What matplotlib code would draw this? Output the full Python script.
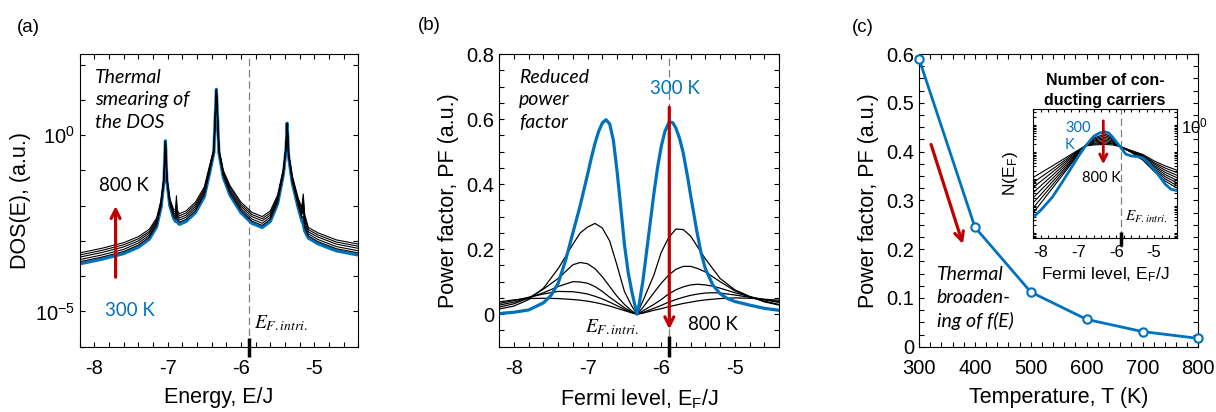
import numpy as np
import matplotlib
matplotlib.use("Agg")
import matplotlib.pyplot as plt
from matplotlib.ticker import MultipleLocator, FixedLocator, FuncFormatter, LogLocator, NullFormatter

# ---------------- data ----------------
# (a) DOS, log10 values, 300 K (blue) and 400..800 K (black)
E_a = [-8.2, -7.9, -7.6, -7.4, -7.25, -7.15, -7.09, -7.05, -7.03, -7.01, -6.97, -6.92, -6.89, -6.88,
       -6.87, -6.84, -6.75, -6.62, -6.5, -6.42, -6.37, -6.335, -6.3, -6.24, -6.15, -6.0, -5.85, -5.71,
       -5.6, -5.5, -5.42, -5.385, -5.37, -5.35, -5.3, -5.22, -5.17, -5.15, -5.13, -5.08, -4.95, -4.7, -4.4]
dos_300 = [-3.65, -3.52, -3.36, -3.18, -2.95, -2.6, -2.05, -1.3, -0.16, -1.3, -2.0, -2.35, -2.45, -2.43,
           -2.46, -2.53, -2.45, -2.2, -1.75, -1.0, -0.5, 1.30, -0.5, -1.2, -1.7, -2.2, -2.5, -2.62,
           -2.45, -1.95, -1.1, -0.4, 0.34, -0.6, -1.35, -2.05, -2.42, -2.52, -2.72, -2.92, -3.08, -3.28, -3.40]
dos_400 = [-3.59, -3.46, -3.30, -3.12, -2.89, -2.55, -2.01, -1.28, -0.17, -1.28, -1.96, -2.30, -2.38, -2.25,
           -2.39, -2.47, -2.39, -2.14, -1.69, -0.96, -0.48, 1.29, -0.48, -1.16, -1.65, -2.14, -2.44, -2.56,
           -2.39, -1.90, -1.07, -0.38, 0.34, -0.58, -1.31, -2.00, -2.35, -2.3, -2.63, -2.86, -3.02, -3.22, -3.34]
dos_500 = [-3.53, -3.40, -3.24, -3.06, -2.84, -2.50, -1.97, -1.26, -0.18, -1.26, -1.92, -2.25, -2.32, -2.1,
           -2.32, -2.41, -2.33, -2.08, -1.64, -0.92, -0.46, 1.29, -0.46, -1.12, -1.59, -2.08, -2.38, -2.50,
           -2.33, -1.85, -1.04, -0.37, 0.33, -0.57, -1.27, -1.94, -2.27, -2.1, -2.53, -2.80, -2.96, -3.16, -3.28]
dos_600 = [-3.46, -3.33, -3.17, -3.00, -2.78, -2.45, -1.93, -1.24, -0.19, -1.24, -1.88, -2.20, -2.25, -1.95,
           -2.26, -2.35, -2.27, -2.02, -1.58, -0.88, -0.44, 1.28, -0.44, -1.08, -1.54, -2.02, -2.31, -2.43,
           -2.27, -1.80, -1.01, -0.35, 0.33, -0.55, -1.23, -1.89, -2.20, -1.95, -2.44, -2.74, -2.89, -3.09, -3.21]
dos_700 = [-3.40, -3.27, -3.11, -2.94, -2.73, -2.40, -1.89, -1.22, -0.20, -1.22, -1.84, -2.15, -2.19, -1.85,
           -2.19, -2.29, -2.21, -1.96, -1.53, -0.84, -0.42, 1.28, -0.42, -1.04, -1.48, -1.96, -2.25, -2.37,
           -2.21, -1.75, -0.98, -0.34, 0.32, -0.54, -1.19, -1.83, -2.12, -1.8, -2.34, -2.68, -2.83, -3.03, -3.15]
dos_800 = [-3.34, -3.21, -3.05, -2.88, -2.67, -2.35, -1.85, -1.2, -0.21, -1.2, -1.8, -2.1, -2.12, -1.72,
           -2.12, -2.23, -2.15, -1.9, -1.47, -0.8, -0.4, 1.27, -0.4, -1.0, -1.43, -1.9, -2.19, -2.31,
           -2.15, -1.7, -0.95, -0.32, 0.32, -0.52, -1.15, -1.78, -2.05, -1.67, -2.25, -2.62, -2.77, -2.97, -3.09]

# (b) power factor vs Fermi level
E_b_blue = [-8.2, -8.0, -7.8, -7.6, -7.5, -7.4, -7.3, -7.2, -7.1, -7.0,
            -6.95, -6.9, -6.85, -6.8, -6.75, -6.7, -6.65, -6.6, -6.55, -6.5,
            -6.45, -6.4, -6.36, -6.33, -6.3, -6.25, -6.2, -6.15, -6.1, -6.05,
            -6.0, -5.95, -5.89, -5.84, -5.8, -5.75, -5.7, -5.64, -5.6, -5.52,
            -5.46, -5.4, -5.3, -5.2, -5.1, -5.0, -4.8, -4.7, -4.6, -4.4]
pf_300 = [0.002, 0.006, 0.013, 0.035, 0.057, 0.095, 0.165, 0.25, 0.335, 0.43,
          0.48, 0.525, 0.562, 0.588, 0.598, 0.585, 0.535, 0.44, 0.33, 0.215,
          0.13, 0.07, 0.03, 0.0, 0.03, 0.1, 0.19, 0.28, 0.37, 0.45,
          0.515, 0.562, 0.592, 0.588, 0.572, 0.54, 0.495, 0.42, 0.365, 0.26,
          0.19, 0.14, 0.09, 0.063, 0.048, 0.039, 0.028, 0.023, 0.018, 0.012]
E_b = [-8.2, -8.0, -7.8, -7.6, -7.4, -7.2, -7.1, -7.0, -6.9, -6.8, -6.7, -6.6, -6.5, -6.4, -6.33,
       -6.25, -6.1, -6.0, -5.9, -5.8, -5.7, -5.6, -5.5, -5.4, -5.3, -5.2, -5.0, -4.8, -4.6, -4.4]
pf_400 = [0.016, 0.025, 0.045, 0.08, 0.14, 0.215, 0.25, 0.268, 0.279, 0.265, 0.225, 0.15, 0.07, 0.025, 0.0,
          0.04, 0.12, 0.19, 0.235, 0.262, 0.26, 0.24, 0.205, 0.17, 0.14, 0.11, 0.075, 0.055, 0.038, 0.028]
pf_500 = [0.022, 0.032, 0.05, 0.077, 0.11, 0.152, 0.159, 0.155, 0.14, 0.115, 0.085, 0.055, 0.03, 0.01, 0.0,
          0.02, 0.066, 0.095, 0.12, 0.138, 0.147, 0.147, 0.14, 0.13, 0.115, 0.1, 0.072, 0.053, 0.04, 0.03]
pf_600 = [0.028, 0.037, 0.05, 0.066, 0.085, 0.1, 0.099, 0.095, 0.085, 0.07, 0.052, 0.036, 0.02, 0.006, 0.0,
          0.01, 0.03, 0.045, 0.062, 0.075, 0.084, 0.09, 0.092, 0.09, 0.086, 0.08, 0.066, 0.054, 0.044, 0.036]
pf_700 = [0.033, 0.042, 0.052, 0.062, 0.07, 0.069, 0.066, 0.062, 0.055, 0.047, 0.037, 0.026, 0.015, 0.005, 0.0,
          0.005, 0.018, 0.027, 0.037, 0.045, 0.052, 0.058, 0.062, 0.065, 0.066, 0.065, 0.059, 0.052, 0.045, 0.039]
pf_800 = [0.038, 0.044, 0.048, 0.049, 0.048, 0.045, 0.043, 0.04, 0.036, 0.031, 0.025, 0.018, 0.011, 0.004, 0.0,
          0.003, 0.012, 0.017, 0.023, 0.028, 0.033, 0.037, 0.041, 0.044, 0.046, 0.048, 0.05, 0.049, 0.046, 0.043]

# (c) peak power factor vs temperature
temps = [300, 400, 500, 600, 700, 800]
pf_peak = [0.59, 0.245, 0.112, 0.056, 0.031, 0.017]

# (c) inset: number of conducting carriers, log10 values
E_in_blue = [-8.2, -8.0, -7.7, -7.45, -7.2, -7.0, -6.83, -6.6, -6.45, -6.3, -6.2, -6.1, -5.9, -5.75,
             -5.6, -5.45, -5.3, -5.15, -5.0, -4.85, -4.7, -4.55, -4.4]
n_300 = [-3.42, -3.15, -2.68, -2.15, -1.6, -1.15, -0.8, -0.42, -0.3, -0.25, -0.3, -0.45, -0.8, -1.08,
         -1.15, -1.17, -1.22, -1.4, -1.65, -1.92, -2.2, -2.38, -2.43]
E_in = [-8.2, -7.7, -7.2, -6.83, -6.6, -6.3, -6.1, -5.9, -5.6, -5.3, -5.0, -4.7, -4.4]
n_t1 = [-3.25, -2.35, -1.45, -0.78, -0.49, -0.33, -0.47, -0.8, -1.02, -1.3, -1.72, -2.08, -2.33]
n_t2 = [-3.06, -2.23, -1.40, -0.78, -0.53, -0.39, -0.51, -0.8, -1.01, -1.27, -1.66, -2.0, -2.24]
n_t3 = [-2.88, -2.11, -1.35, -0.78, -0.57, -0.45, -0.55, -0.8, -1.0, -1.24, -1.61, -1.92, -2.14]
n_t4 = [-2.69, -1.99, -1.30, -0.78, -0.60, -0.51, -0.59, -0.8, -0.99, -1.21, -1.55, -1.84, -2.05]
n_t5 = [-2.50, -1.87, -1.24, -0.78, -0.64, -0.57, -0.63, -0.8, -0.98, -1.18, -1.5, -1.76, -1.95]
n_t6 = [-2.31, -1.75, -1.19, -0.78, -0.68, -0.62, -0.67, -0.8, -0.97, -1.15, -1.44, -1.68, -1.86]
n_t7 = [-2.13, -1.64, -1.14, -0.78, -0.71, -0.67, -0.70, -0.8, -0.96, -1.12, -1.39, -1.6, -1.76]
n_t8 = [-1.94, -1.52, -1.09, -0.78, -0.74, -0.72, -0.74, -0.8, -0.95, -1.09, -1.33, -1.52, -1.67]

E_F = -5.89

BLUE = '#0072BD'
RED = '#C00000'
NOTE = 'Lato'
TICK = 14.5
LAB = 15.5

plt.rcParams['font.family'] = 'Liberation Sans'
plt.rcParams['axes.unicode_minus'] = False
plt.rcParams['mathtext.fontset'] = 'stix'

fig = plt.figure(figsize=(12.16, 4.12), dpi=100)
ax_a = fig.add_axes([0.0655, 0.1585, 0.2291, 0.7104])
ax_b = fig.add_axes([0.4106, 0.1585, 0.2300, 0.7104])
ax_c = fig.add_axes([0.7558, 0.1585, 0.2297, 0.7104])
ax_in = fig.add_axes([0.8498, 0.4223, 0.1179, 0.3131])


def style(ax, size=TICK, pad=9):
    ax.tick_params(which='both', direction='in', top=True, right=True, length=3.5, width=0.8,
                   labelsize=size)
    ax.tick_params(axis='x', pad=pad)
    for s in ax.spines.values():
        s.set_linewidth(0.8)


def ef_marks(ax, lo, hi):
    ax.axvline(E_F, color='0.5', lw=0.9, ls=(0, (6, 3)), zorder=0)
    ax.plot([E_F, E_F], [lo, hi], color='black', lw=2.5, clip_on=False,
            transform=ax.get_xaxis_transform(), solid_capstyle='butt')


def decade_label(keep):
    def f(v, pos):
        if v <= 0:
            return ''
        e = int(round(np.log10(v)))
        return r'$\mathregular{10^{%d}}$' % e if e in keep else ''
    return f


# ---------------- (a) ----------------
ax = ax_a
ax.plot(E_a, 10.0 ** np.array(dos_300), color=BLUE, lw=2.3)
for d in [dos_400, dos_500, dos_600, dos_700, dos_800]:
    ax.plot(E_a, 10.0 ** np.array(d), color='black', lw=0.8)
ax.set_yscale('log')
ax.set_xlim(-8.2, -4.4)
ax.set_ylim(1e-6, 2e2)
ax.yaxis.set_major_locator(FixedLocator([10.0 ** k for k in range(-6, 3)]))
ax.yaxis.set_major_formatter(FuncFormatter(decade_label((0, -5))))
ax.yaxis.set_minor_locator(FixedLocator([]))
ax.xaxis.set_major_locator(MultipleLocator(1))
ax.xaxis.set_minor_locator(MultipleLocator(0.2))
style(ax)
ef_marks(ax, 0.03, -0.035)
ax.set_xlabel('Energy, E/J', fontsize=LAB, labelpad=6)
ax.set_ylabel('DOS(E), (a.u.)', fontsize=LAB, labelpad=3)
ax.text(0.054, 0.95, 'Thermal\nsmearing of\nthe DOS', transform=ax.transAxes, family=NOTE,
        style='italic', fontsize=14, va='top', ha='left', linespacing=1.4)
ax.text(0.158, 0.552, '800 K', transform=ax.transAxes, family=NOTE, fontsize=13.5,
        ha='center', va='center')
ax.text(0.182, 0.122, '300 K', transform=ax.transAxes, family=NOTE, fontsize=13.5,
        ha='center', va='center', color=BLUE)
ax.annotate('', xy=(0.129, 0.49), xytext=(0.129, 0.228), xycoords='axes fraction',
            arrowprops=dict(arrowstyle='->', color=RED, lw=2.3, mutation_scale=16))
ax.text(0.626, 0.081, r'$E_{F.intri.}$', transform=ax.transAxes, fontsize=14,
        ha='left', va='center')

# ---------------- (b) ----------------
ax = ax_b
for d in [pf_400, pf_500, pf_600, pf_700, pf_800]:
    ax.plot(E_b, d, color='black', lw=0.9)
ax.plot(E_b_blue, pf_300, color=BLUE, lw=2.3)
ax.set_xlim(-8.2, -4.4)
ax.set_ylim(-0.1, 0.8)
ax.yaxis.set_major_locator(FixedLocator([0, 0.2, 0.4, 0.6, 0.8]))
ax.yaxis.set_major_formatter(FuncFormatter(lambda v, p: '0' if abs(v) < 1e-9 else '%.1f' % v))
ax.yaxis.set_minor_locator(MultipleLocator(0.05))
ax.xaxis.set_major_locator(MultipleLocator(1))
ax.xaxis.set_minor_locator(MultipleLocator(0.2))
style(ax)
ef_marks(ax, 0.035, -0.035)
ax.set_xlabel(r'Fermi level, E$_\mathregular{F}$/J', fontsize=LAB, labelpad=6)
ax.set_ylabel('Power factor, PF (a.u.)', fontsize=LAB, labelpad=5)
ax.text(0.0715, 0.95, 'Reduced\npower\nfactor', transform=ax.transAxes, family=NOTE,
        style='italic', fontsize=14, va='top', ha='left', linespacing=1.4)
ax.text(-5.81, 0.695, '300 K', family=NOTE, fontsize=13.5, ha='center', va='center', color=BLUE)
ax.text(-5.30, -0.031, '800 K', family=NOTE, fontsize=13.5, ha='center', va='center')
ax.annotate('', xy=(E_F, -0.055), xytext=(E_F, 0.645),
            arrowprops=dict(arrowstyle='->', color=RED, lw=2.3, mutation_scale=16))
ax.text(-7.03, -0.04, r'$E_{F.intri.}$', fontsize=14, ha='left', va='center')

# ---------------- (c) ----------------
ax = ax_c
ax.plot(temps, pf_peak, color=BLUE, lw=2, marker='o', ms=6, mfc='white', mew=1.5, clip_on=False,
        zorder=3)
ax.set_xlim(300, 800)
ax.set_ylim(0, 0.6)
ax.xaxis.set_major_locator(MultipleLocator(100))
ax.xaxis.set_minor_locator(MultipleLocator(20))
ax.yaxis.set_major_locator(MultipleLocator(0.1))
ax.yaxis.set_major_formatter(FuncFormatter(lambda v, p: '0' if abs(v) < 1e-9 else '%.1f' % v))
ax.yaxis.set_minor_locator(MultipleLocator(0.025))
style(ax)
ax.set_xlabel('Temperature, T (K)', fontsize=LAB, labelpad=6)
ax.set_ylabel('Power factor, PF (a.u.)', fontsize=LAB, labelpad=5)
ax.annotate('', xy=(380, 0.205), xytext=(320, 0.42),
            arrowprops=dict(arrowstyle='->', color=RED, lw=2.3, mutation_scale=16))
ax.text(0.063, 0.275, 'Thermal\nbroaden-\ning of f(E)', transform=ax.transAxes, family=NOTE,
        style='italic', fontsize=14, va='top', ha='left', linespacing=1.4)

# ---------------- inset ----------------
ax = ax_in
for d in [n_t1, n_t2, n_t3, n_t4, n_t5, n_t6, n_t7, n_t8]:
    ax.plot(E_in, 10.0 ** np.array(d), color='black', lw=0.8)
ax.plot(E_in_blue, 10.0 ** np.array(n_300), color=BLUE, lw=2)
ax.set_yscale('log')
ax.set_xlim(-8.2, -4.4)
ax.set_ylim(6.5e-5, 3.9)
ax.yaxis.set_major_locator(LogLocator(base=10, numticks=10))
ax.yaxis.set_minor_locator(LogLocator(base=10, subs=np.arange(2, 10), numticks=10))
ax.yaxis.set_minor_formatter(NullFormatter())
ax.yaxis.set_major_formatter(FuncFormatter(decade_label((0,))))
ax.xaxis.set_major_locator(MultipleLocator(1))
ax.xaxis.set_minor_locator(MultipleLocator(0.2))
style(ax, size=12, pad=5)
ax.tick_params(which='both', length=2.5)
ax.tick_params(axis='y', labelleft=False, labelright=True, pad=3)
ef_marks(ax, 0.05, -0.06)
ax.set_xlabel(r'Fermi level, E$_\mathregular{F}$/J', fontsize=12.5, labelpad=4)
ax.set_ylabel(r'N(E$_\mathregular{F}$)', fontsize=12.5, labelpad=6)
ax.set_title('Number of con-\nducting carriers', fontsize=11.5, fontweight='bold', pad=3,
             linespacing=1.4)
ax.text(0.221, 0.853, '300', transform=ax.transAxes, family=NOTE, fontsize=10.5, color=BLUE,
        ha='left', va='center')
ax.text(0.221, 0.721, 'K', transform=ax.transAxes, family=NOTE, fontsize=10.5, color=BLUE,
        ha='left', va='center')
ax.text(0.477, 0.463, '800 K', transform=ax.transAxes, family=NOTE, fontsize=10.5,
        ha='center', va='center')
ax.annotate('', xy=(0.488, 0.55), xytext=(0.488, 0.93), xycoords='axes fraction',
            arrowprops=dict(arrowstyle='->', color=RED, lw=2, mutation_scale=13))
ax.text(0.64, 0.165, r'$E_{F.intri.}$', transform=ax.transAxes, fontsize=11,
        ha='left', va='center')

# panel letters
fig.text(28 / 1216, 1 - 27 / 412, '(a)', fontsize=13.5, ha='center', va='center')
fig.text(429 / 1216, 1 - 25 / 412, '(b)', fontsize=13.5, ha='center', va='center')
fig.text(863 / 1216, 1 - 27 / 412, '(c)', fontsize=13.5, ha='center', va='center')

fig.savefig('out.png', dpi=100)
